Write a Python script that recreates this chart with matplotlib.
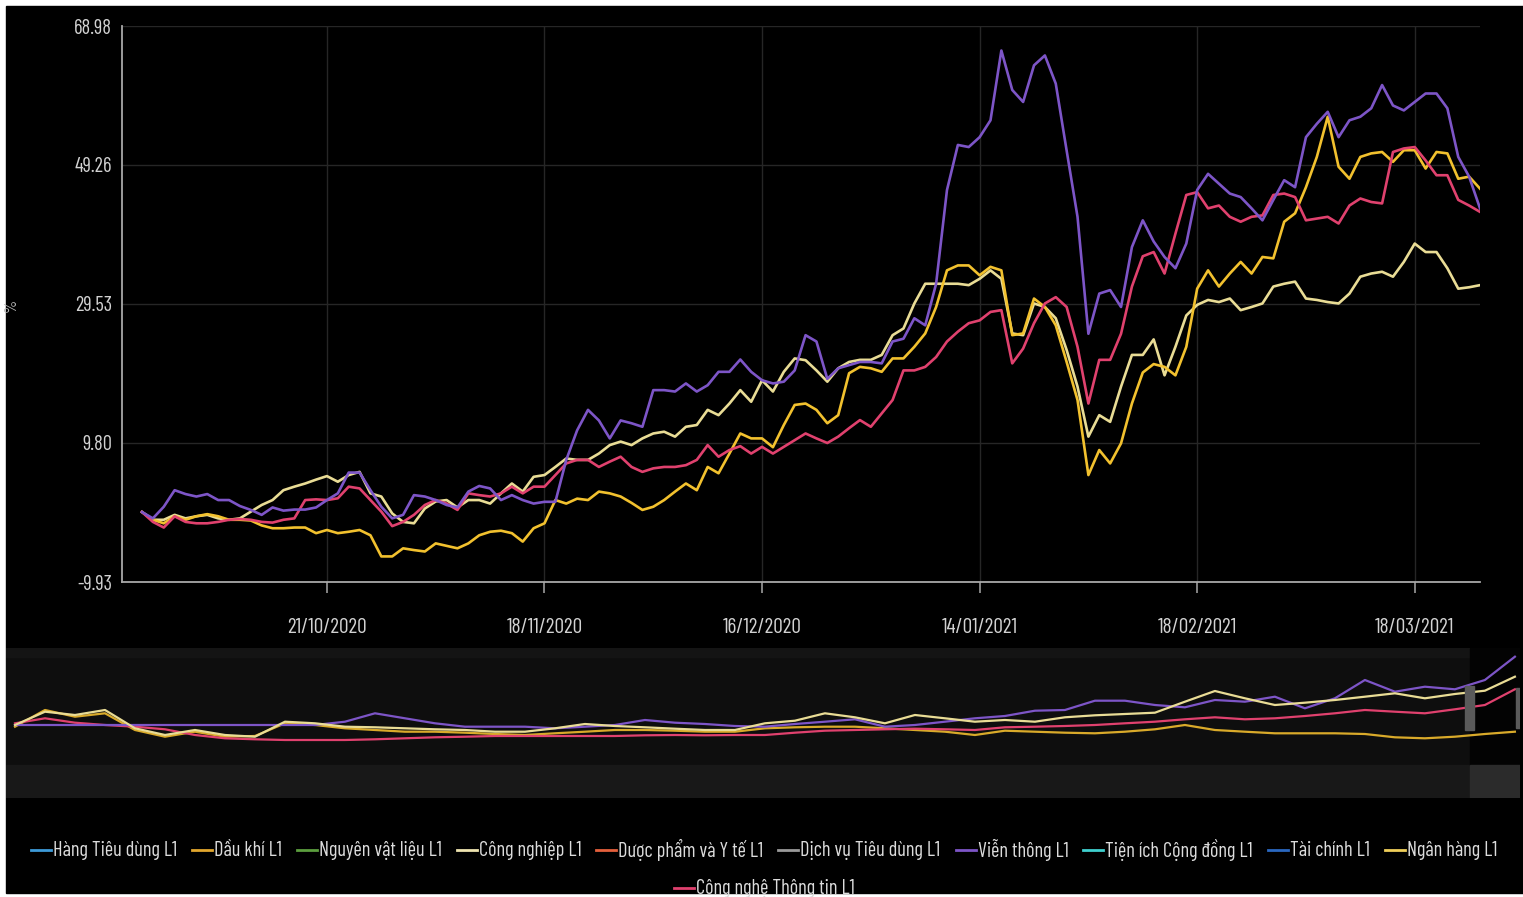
import numpy as np
import matplotlib
matplotlib.use('Agg')
import matplotlib.pyplot as plt
from matplotlib.patches import Rectangle
from matplotlib.lines import Line2D
from matplotlib import font_manager

# narrow sans for all text (source screenshot is horizontally squeezed)
names = {f.name for f in font_manager.fontManager.ttflist}
fam = [n for n in ['Barlow Condensed', 'Roboto Condensed', 'Archivo Narrow'] if n in names]
plt.rcParams['font.family'] = fam + ['DejaVu Sans']
plt.rcParams['font.stretch'] = 'condensed'

# ---- data (% change, one point per trading day, from 28/09/2020) ----
vien_thong = [0, -0.9, 0.75, 3.1, 2.55, 2.2, 2.55, 1.7, 1.7, 0.85, 0.3, -0.4, 0.65, 0.2, 0.35, 0.35, 0.65,
              1.7, 2.65, 5.6, 5.6, 3.1, 0.75, -0.9, -0.4, 2.4, 2.2, 1.7, 1.0, 0.65, 2.9, 3.7, 3.35,
              1.7, 2.4, 1.7, 1.2, 1.45, 1.45, 7.4, 11.6, 14.5, 13.0, 10.45, 13.0, 12.6, 12.1, 17.3, 17.3,
              17.1, 18.25, 17.1, 18.0, 19.9, 19.9, 21.65, 19.9, 18.7, 18.25, 18.5, 20.1, 25.1, 24.2, 18.9,
              20.4, 20.85, 21.3, 21.3, 21.1, 24.2, 24.6, 27.5, 26.5, 32.4, 45.7, 52.1, 51.8, 53.2, 55.6,
              65.5, 59.9, 58.2, 63.4, 64.8, 60.8, 51.3, 41.9, 25.3, 31.0, 31.5, 29.1, 37.6, 41.4, 38.4,
              36.2, 34.6, 38.1, 45.7, 48.0, 46.6, 45.2, 44.7, 43.1, 41.4, 44.3, 47.1, 46.1, 53.2, 55.1,
              56.8, 53.2, 55.6, 56.1, 57.3, 60.6, 57.7, 57.0, 58.2, 59.4, 59.4, 57.3, 50.4, 47.6, 43.1]
cong_nghe_tt = [0, -1.4, -2.2, -0.6, -1.4, -1.6, -1.6, -1.4, -1.1, -1.0, -1.1, -1.4, -1.5, -1.1, -0.9, 1.7, 1.8,
                1.7, 1.95, 3.6, 3.35, 1.7, 0.05, -2.0, -1.4, -0.4, 1.0, 1.7, 1.2, 0.3, 2.65, 2.4, 2.2,
                2.65, 3.6, 2.65, 3.6, 3.6, 5.25, 6.9, 7.4, 7.4, 6.4, 7.15, 7.85, 6.4, 5.7, 6.2, 6.4,
                6.4, 6.65, 7.4, 9.5, 7.85, 8.8, 9.35, 8.3, 9.25, 8.3, 9.25, 10.2, 11.15, 10.45, 9.8,
                10.7, 11.9, 13.05, 12.1, 14.0, 15.9, 20.1, 20.1, 20.6, 22.0, 24.2, 25.6, 26.8, 27.2, 28.4,
                28.65, 21.1, 23.2, 26.8, 29.6, 30.5, 29.1, 23.45, 15.4, 21.6, 21.6, 25.3, 32.0, 36.3, 36.9,
                33.85, 39.5, 45.0, 45.4, 43.1, 43.5, 41.9, 41.2, 41.9, 42.1, 45.0, 45.2, 44.7, 41.4, 41.65,
                41.9, 40.95, 43.5, 44.5, 44.0, 43.8, 51.1, 51.6, 51.8, 49.9, 47.8, 47.8, 44.3, 43.5, 42.6]
cong_nghiep = [0, -1.1, -1.1, -0.4, -0.9, -0.6, -0.4, -0.9, -1.1, -0.9, 0.05, 1.0, 1.7, 3.1, 3.6, 4.05, 4.6,
               5.1, 4.3, 5.25, 5.7, 2.65, 2.2, -0.2, -1.4, -1.6, 0.5, 1.5, 1.7, 0.65, 1.7, 1.7, 1.2,
               2.65, 4.05, 2.9, 5.0, 5.25, 6.4, 7.6, 7.4, 7.4, 8.3, 9.5, 10.0, 9.5, 10.45, 11.15, 11.4,
               10.7, 12.1, 12.35, 14.5, 13.75, 15.4, 17.3, 15.65, 18.7, 17.1, 19.9, 21.8, 21.55, 20.1, 18.5,
               20.4, 21.3, 21.6, 21.6, 22.3, 25.1, 26.05, 29.6, 32.4, 32.4, 32.4, 32.4, 32.2, 33.1, 34.3,
               33.1, 25.35, 25.1, 29.6, 29.1, 27.5, 23.0, 17.8, 10.7, 13.75, 12.8, 17.8, 22.3, 22.3, 24.5,
               19.4, 23.45, 27.9, 29.4, 30.1, 29.8, 30.3, 28.65, 29.1, 29.6, 32.0, 32.4, 32.7, 30.3, 30.1,
               29.8, 29.6, 31.0, 33.4, 33.85, 34.1, 33.4, 35.5, 38.1, 36.9, 36.9, 34.6, 31.7, 31.9, 32.2]
ngan_hang = [0, -1.1, -1.6, -0.6, -1.1, -0.6, -0.3, -0.6, -1.1, -1.1, -1.2, -1.9, -2.3, -2.3, -2.2, -2.2, -3.0,
             -2.55, -3.0, -2.8, -2.55, -3.3, -6.3, -6.3, -5.15, -5.4, -5.6, -4.45, -4.8, -5.15, -4.45, -3.3, -2.8,
             -2.65, -3.0, -4.2, -2.3, -1.6, 1.7, 1.2, 1.9, 1.7, 2.9, 2.65, 2.2, 1.3, 0.3, 0.75, 1.7,
             2.9, 4.05, 3.1, 6.4, 5.5, 8.3, 11.15, 10.45, 10.45, 9.2, 12.35, 15.2, 15.4, 14.5, 12.6,
             13.75, 19.7, 20.6, 20.4, 19.9, 21.8, 21.8, 23.45, 25.35, 29.1, 34.3, 35.0, 35.0, 33.6, 34.8,
             34.3, 25.1, 25.35, 30.3, 29.1, 26.5, 21.3, 15.9, 5.25, 8.8, 6.9, 9.75, 15.4, 19.8, 21.0,
             20.6, 19.4, 23.45, 31.7, 34.3, 32.0, 33.85, 35.5, 33.85, 36.2, 36.0, 41.2, 42.4, 46.1, 50.4,
             56.1, 49.0, 47.3, 50.4, 50.9, 51.1, 49.7, 51.35, 51.35, 48.75, 51.1, 50.9, 47.3, 47.6, 45.9]

tick_idx = [17, 37, 57, 77, 97, 117]
tick_labels = ['21/10/2020', '18/11/2020', '16/12/2020', '14/01/2021', '18/02/2021', '18/03/2021']
y_ticks = [-9.93, 9.80, 29.53, 49.26, 68.98]

# navigator (long history, same series, coarse)
nav_vien_thong = [-1, -1, -1, -1, -1, -1, -1, -1, -1, -1, -1, 2.3, 10.7, 5.7, 0.7, -2.7, -2.7, -2.7, -4.3, -2.7,
                  -1, 4, 1.3, 0, -2, -2.7, 0, 2.3, 4.7, -2.7, -1, 2.3, 5.7, 8, 13.3, 14, 23.3, 23.3, 19, 16.7,
                  24, 22.3, 27.3, 15.7, 25.7, 44, 32.3, 37.3, 34.7, 44, 67.3]
nav_cong_nghiep = [-1, 12.3, 9, 14, -4.3, -11, -6, -11, -12.7, 2.3, 0.7, -2.7, -3.3, -4.3, -5.3, -6, -7.7, -7.7,
                   -4.3, 0, -2, -3.3, -4.7, -6, -6, 0.7, 3.3, 10.7, 6.7, 0.7, 9, 5.7, 2.3, 4, 2.3, 6.7, 8.7,
                   10, 11.3, 22.3, 33, 25.7, 19, 21.3, 24, 27.3, 30.7, 25.7, 30, 33.3, 47.3]
nav_dau_khi = [-2.7, 14, 7.3, 10.7, -6, -12.7, -7.7, -12.7, -12, 0.7, -1, -4.3, -6, -7.7, -7.7, -8.7, -10, -11,
               -9.3, -7.7, -6, -6, -6.7, -7.7, -7.7, -4.3, -3.3, -2.7, -2.7, -4.3, -6, -7.7, -11, -6.7, -7.7,
               -8.7, -9.3, -7.7, -5.3, -1, -6, -7.7, -9.3, -9.3, -9.3, -10, -13.3, -14.3, -12.7, -10, -7.7]
nav_cong_nghe_tt = [0.7, 5.7, 1.3, -1, -2.7, -5.3, -11, -14.3, -15.3, -16, -16, -16, -15.3, -14.3, -13.3, -12.7,
                    -12, -12, -12, -12, -12, -11.3, -11, -11.3, -11, -11, -8.7, -6.7, -6, -5.3, -4.7, -5.3, -6,
                    -3.3, -2.7, -2, -1, 0.7, 2.3, 4.7, 6.7, 4.7, 5.7, 8, 10.7, 14, 12.3, 10.7, 14.7, 19, 34.7]

leg_names = ['Hàng Tiêu dùng L1', 'Dầu khí L1', 'Nguyên vật liệu L1', 'Công nghiệp L1',
             'Dược phẩm và Y tế L1', 'Dịch vụ Tiêu dùng L1', 'Viễn thông L1', 'Tiện ích Cộng đồng L1',
             'Tài chính L1', 'Ngân hàng L1', 'Công nghệ Thông tin L1']
leg_colors = ['#3d9ad8', '#e2a72e', '#5c9e3e', '#efe4b0', '#e5603c', '#9a9a9a', '#7d55c7', '#3fd0cf',
              '#2a68c0', '#f0cf5a', '#e0416e']

c_purple = '#7d55c7'
c_pink = '#e0416e'
c_yellow = '#f2c12e'
c_pale = '#e9dc95'
c_tick = '#d2d2d2'

W, H = 1523, 897


def fx(x):
    return x / W


def fy(y):
    return 1 - y / H


fig = plt.figure(figsize=(W / 100, H / 100), dpi=100, facecolor='white')
renderer = fig.canvas.get_renderer()


def fit_size(txt, target_px):
    # font size that gives the text the width seen in the screenshot
    t = fig.text(0, 0, txt, fontsize=20)
    w = t.get_window_extent(renderer).width
    t.remove()
    return 20 * target_px / w


ysize = fit_size('68.98', 38)
xsize = fit_size('21/10/2020', 80)

fig.patches.append(Rectangle((fx(6), fy(893)), fx(1523 - 6), (893 - 6) / H,
                             transform=fig.transFigure, color='black', zorder=-10))

# ---- main chart ----
ax = fig.add_axes([fx(122), fy(582), fx(1358), 556 / H])
ax.set_facecolor('black')
x = np.arange(len(vien_thong))
ax.plot(x, cong_nghiep, color=c_pale, lw=1.9, zorder=3)
ax.plot(x, ngan_hang, color=c_yellow, lw=1.9, zorder=4)
ax.plot(x, cong_nghe_tt, color=c_pink, lw=1.9, zorder=5)
ax.plot(x, vien_thong, color=c_purple, lw=1.9, zorder=6)
ax.set_xlim(-1.84, len(x) - 1)
ax.set_ylim(y_ticks[0], y_ticks[-1])
ax.set_yticks(y_ticks)
ax.set_yticklabels(['%.2f' % v for v in y_ticks])
ax.set_xticks(tick_idx)
ax.set_xticklabels(tick_labels)
ax.tick_params(axis='y', length=0, pad=7, labelsize=ysize, labelcolor=c_tick)
ax.tick_params(axis='x', length=8, width=1.2, color='#9a9a9a', pad=18, labelsize=xsize, labelcolor=c_tick)
for s in ['top', 'right']:
    ax.spines[s].set_visible(False)
for s in ['left', 'bottom']:
    ax.spines[s].set_color('#a8a8a8')
    ax.spines[s].set_linewidth(1.3)
ax.grid(True, color='#262626', lw=1.0)
ax.set_axisbelow(True)
fig.text(fx(11), fy(305), '%', rotation=90, color='#bbbbbb', fontsize=12, ha='center', va='center')

# ---- navigator ----
nav = fig.add_axes([fx(6), fy(798), fx(1514), 150 / H])
nav.set_facecolor('#0e0e0e')
for s in nav.spines.values():
    s.set_visible(False)
nav.set_xticks([])
nav.set_yticks([])
nk = np.arange(len(nav_vien_thong))
nav.set_xlim(-0.3, 50.17)
nav.set_ylim(-74, 76)
# bands and handles (axes fraction)
xs = (1470 - 6) / 1514
nav.add_patch(Rectangle((0, 0), xs, 33 / 150, transform=nav.transAxes, color='#181818', zorder=0))
nav.add_patch(Rectangle((0, 141 / 150), xs, 9 / 150, transform=nav.transAxes, color='#141414', zorder=0))
nav.add_patch(Rectangle((xs, 33 / 150), 1, 117 / 150, transform=nav.transAxes, color='#030303', zorder=0))
nav.add_patch(Rectangle((xs, 0), 1, 33 / 150, transform=nav.transAxes, color='#2b2b2b', zorder=0))
nav.plot(nk, nav_dau_khi, color='#d9aa2a', lw=1.6, zorder=2)
nav.plot(nk, nav_cong_nghe_tt, color=c_pink, lw=1.6, zorder=3)
nav.plot(nk, nav_vien_thong, color=c_purple, lw=1.6, zorder=4)
nav.plot(nk, nav_cong_nghiep, color=c_pale, lw=1.6, zorder=5)
nav.add_patch(Rectangle(((1465 - 6) / 1514, 68 / 150), 9 / 1514, 44 / 150, transform=nav.transAxes,
                        color='#5a5a5a', zorder=6))
nav.add_patch(Rectangle(((1516 - 6) / 1514, 70 / 150), 8 / 1514, 40 / 150, transform=nav.transAxes,
                        color='#5a5a5a', zorder=6))

# ---- legend, rows centred like the source ----
handle_w, pad, gap = 20, 2, 15
# size so that the first row spans the same width as in the screenshot (x 30..1498)
probe = [fig.text(0, 0, leg_names[i], fontsize=20) for i in range(10)]
pw = sum(t.get_window_extent(renderer).width for t in probe)
for t in probe:
    t.remove()
lsize = 20 * (1468 - 10 * (handle_w + pad) - 9 * gap) / pw

rows = [list(range(10)), [10]]
row_y = [850, 888]
for row, yy in zip(rows, row_y):
    texts = []
    for i in row:
        t = fig.text(0, fy(yy), leg_names[i], color='#dcdcdc', fontsize=lsize, va='center', ha='left')
        texts.append(t)
    widths = [t.get_window_extent(renderer).width for t in texts]
    total = sum(handle_w + pad + w for w in widths) + gap * (len(row) - 1)
    xpos = 764 - total / 2
    for i, t, w in zip(row, texts, widths):
        fig.lines.append(Line2D([fx(xpos), fx(xpos + handle_w)], [fy(yy), fy(yy)],
                                transform=fig.transFigure, color=leg_colors[i], lw=2))
        t.set_x(fx(xpos + handle_w + pad))
        xpos += handle_w + pad + w + gap

fig.savefig('out.png', dpi=100, facecolor='white')
